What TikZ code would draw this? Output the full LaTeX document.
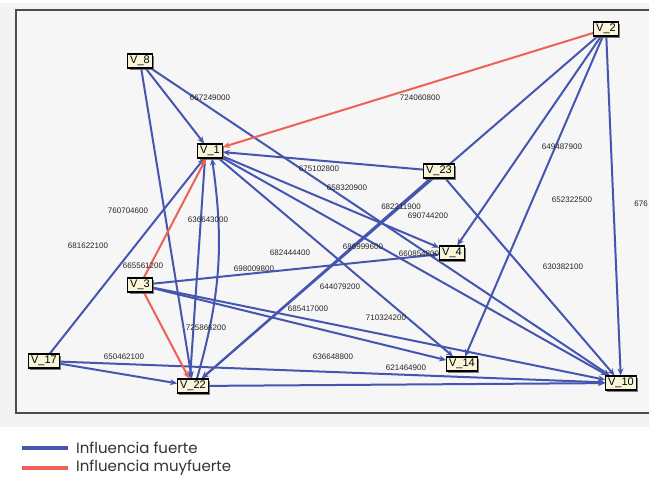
\documentclass[tikz,border=0pt]{standalone}
\usepackage{fontspec}
\setmainfont{Liberation Sans}
\newfontfamily\legendfont{Poppins}
\usetikzlibrary{arrows.meta,shadows}
\definecolor{eblue}{RGB}{70,86,176}
\definecolor{ered}{RGB}{240,96,88}
\definecolor{panel}{RGB}{242,243,242}
\definecolor{inner}{RGB}{245,246,245}
\definecolor{nodefill}{RGB}{248,245,218}
\pgfdeclarelayer{back}
\pgfdeclarelayer{edges}
\pgfsetlayers{back,edges,main}
\tikzset{
  var/.style={draw=black, line width=1.1pt, fill=nodefill,
    font=\fontsize{11}{11}\selectfont, inner xsep=2.5pt, inner ysep=2pt,
    text height=8pt, text depth=2pt,
    drop shadow={shadow xshift=1.8pt, shadow yshift=-1.8pt, fill=black!60, opacity=0.85}},
  lab/.style={font=\fontsize{8}{8}\selectfont, inner sep=0pt, text=black!85},
  fuerte/.style={draw=eblue, line width=2pt, -{Stealth[length=7pt,width=6pt]}},
  muy/.style={draw=ered, line width=2pt, -{Stealth[length=7pt,width=6pt]}},
  legline/.style={line width=3.2pt},
  legtext/.style={font=\legendfont\fontsize{15}{15}\selectfont, text=black!80, anchor=west, inner sep=0pt},
}
\begin{document}
\begin{tikzpicture}[x=1pt,y=-1pt]
\useasboundingbox (0,0) rectangle (649,478);
\begin{pgfonlayer}{back}
  \fill[white] (0,0) rectangle (649,478);
  \fill[panel] (0,3) rectangle (649,427);
  \draw[fill=inner, draw=black!70, line width=1.3pt] (16,10) rectangle (660,413);
\end{pgfonlayer}

% edge labels
\node[lab] (l1) at (210,98) {667249000};
\node[lab] (l2) at (420,98) {724060800};
\node[lab] (l3) at (562,147) {649487900};
\node[lab] (l4) at (319,169) {675102800};
\node[lab] (l5) at (347,188) {658320900};
\node[lab] (l6) at (572,200) {652322500};
\node[lab, anchor=east] (l7) at (648,204) {676};
\node[lab] (l8) at (128,211) {760704600};
\node[lab] (l9) at (208,220) {636643000};
\node[lab] (l10) at (401,207) {682211900};
\node[lab] (l11) at (428,216) {690744200};
\node[lab] (l12) at (88,246) {681622100};
\node[lab] (l13) at (290,253) {682444400};
\node[lab] (l14) at (363,247) {686999600};
\node[lab] (l15) at (419,254) {660854800};
\node[lab] (l16) at (143,266) {665561200};
\node[lab] (l17) at (254,269) {698009800};
\node[lab] (l18) at (340,287) {644079200};
\node[lab] (l19) at (308,309) {685417000};
\node[lab] (l20) at (386,318) {710324200};
\node[lab] (l21) at (563,267) {630382100};
\node[lab] (l22) at (206,328) {725866200};
\node[lab] (l23) at (124,357) {650462100};
\node[lab] (l24) at (333,357) {636648800};
\node[lab] (l25) at (406,368) {621464900};

% variables
\node[var] (V8) at (140,61) {V\_8};
\node[var] (V2) at (606,29) {V\_2};
\node[var] (V1) at (210,151) {V\_1};
\node[var] (V23) at (439,171) {V\_23};
\node[var] (V4) at (452,253) {V\_4};
\node[var] (V3) at (140,285) {V\_3};
\node[var] (V17) at (44,361) {V\_17};
\node[var] (V22) at (193,386) {V\_22};
\node[var] (V14) at (462,364) {V\_14};
\node[var] (V10) at (621,383) {V\_10};

\begin{pgfonlayer}{edges}
  \draw[fuerte] (V8) -- (V1);
  \draw[fuerte] (V8) -- (V22);
  \draw[fuerte] (V8) -- (V10);
  \draw[fuerte] (V2) -- (V22);
  \draw[fuerte] (V2) -- (V4);
  \draw[fuerte] (V2) -- (V14);
  \draw[fuerte] (V2) -- (V10);
  \draw[fuerte] (V23) -- (V1);
  \draw[fuerte] (V23) -- (V22);
  \draw[fuerte] (V23) -- (V10);
  \draw[fuerte] (V1) -- (V4);
  \draw[fuerte] (V1) -- (V10);
  \draw[fuerte] (V1) -- (V14);
  \draw[fuerte] ([xshift=-5pt]V1.south) -- ([xshift=-3pt]V22.north);
  \draw[fuerte] ([xshift=4pt]V22.north) to[bend right=12] ([xshift=2pt]V1.south);
  \draw[fuerte] (V17) -- (V1);
  \draw[fuerte] (V17) -- (V22);
  \draw[fuerte] (V17) -- (V10);
  \draw[fuerte] (V22) -- (V10);
  \draw[fuerte] (V3) -- (V4);
  \draw[fuerte] (V3) -- (V14);
  \draw[fuerte] (V3) -- (V10);
  \draw[muy] (V2) -- (V1);
  \draw[muy] (V3) -- (V1);
  \draw[muy] (V3) -- (V22);
\end{pgfonlayer}

% legend
\coordinate (lb1) at (22,448);
\coordinate (lb2) at (68,448);
\coordinate (lr1) at (22,468);
\coordinate (lr2) at (68,468);
\draw[legline, eblue] (lb1) -- (lb2);
\draw[legline, ered] (lr1) -- (lr2);
\node[legtext] (t1) at (76,448) {Influencia fuerte};
\node[legtext] (t2) at (76,468) {Influencia muyfuerte};
\end{tikzpicture}
\end{document}
